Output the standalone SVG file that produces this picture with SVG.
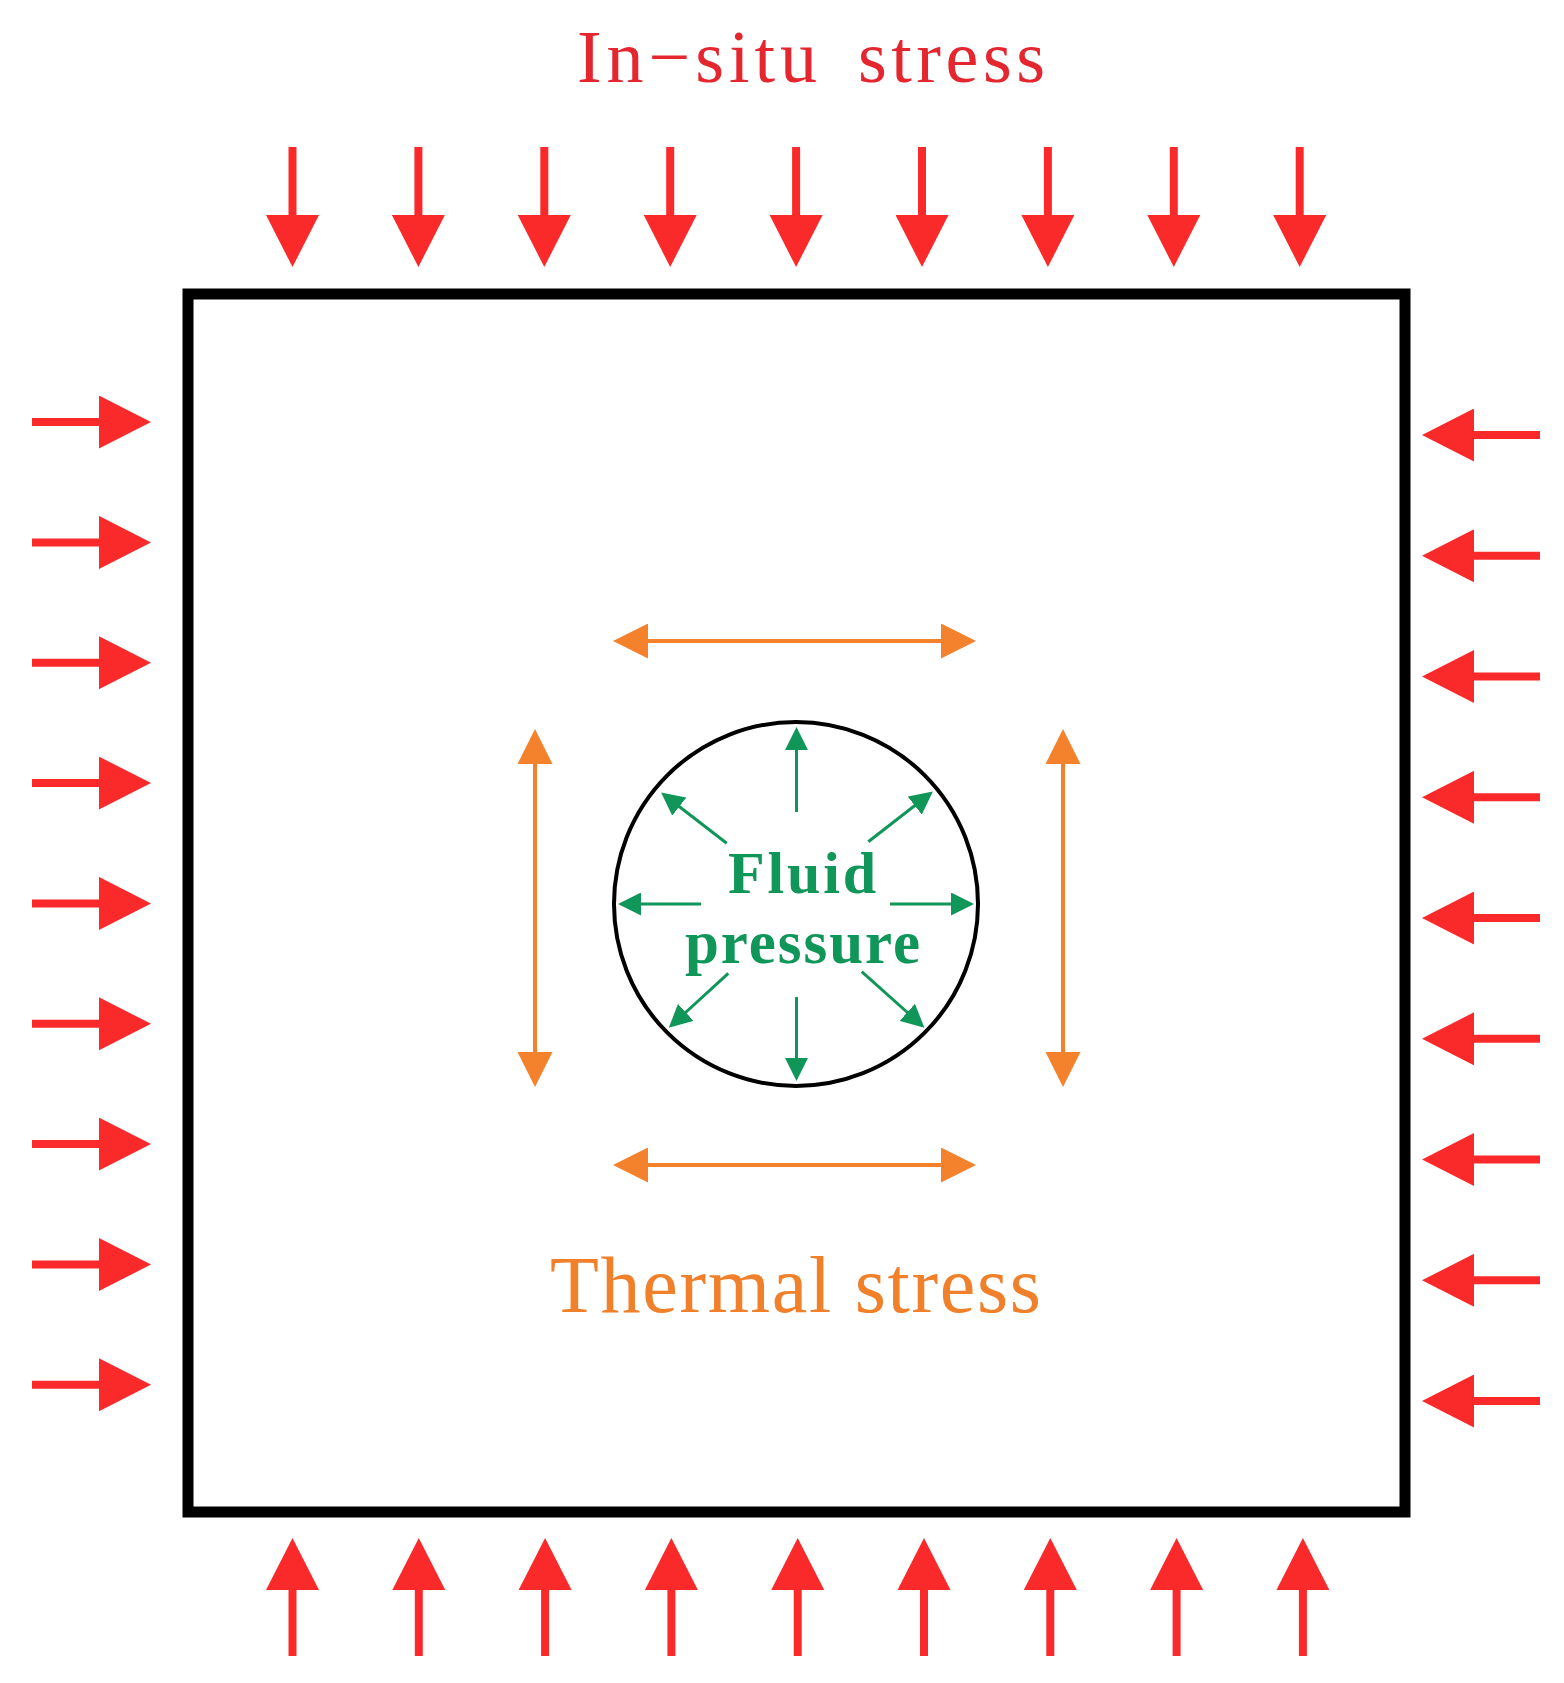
<svg xmlns="http://www.w3.org/2000/svg" width="1564" height="1683" viewBox="0 0 1564 1683">
<style>
.red{stroke:#fa2a2a;stroke-width:8;fill:none;marker-end:url(#rh)}
.org{stroke:#f4812c;stroke-width:4;fill:none;marker-start:url(#oh);marker-end:url(#oh)}
.grn{stroke:#0f9658;stroke-width:3;fill:none;marker-end:url(#gh)}
.serif{font-family:"Liberation Serif","Times New Roman",serif}
</style>
<defs>
<marker id="rh" viewBox="0 0 52 53" refX="1" refY="26.5" markerWidth="52" markerHeight="53" markerUnits="userSpaceOnUse" orient="auto"><path d="M0,0 L52,26.5 L0,53 Z" fill="#fa2a2a"/></marker>
<marker id="oh" viewBox="0 0 35 35" refX="1" refY="17.5" markerWidth="35" markerHeight="35" markerUnits="userSpaceOnUse" orient="auto-start-reverse"><path d="M0,0 L35,17.5 L0,35 Z" fill="#f4812c"/></marker>
<marker id="gh" viewBox="0 0 23 23" refX="1" refY="11.5" markerWidth="23" markerHeight="23" markerUnits="userSpaceOnUse" orient="auto"><path d="M0,0 L23,11.5 L0,23 Z" fill="#0f9658"/></marker>
</defs>
<rect width="1564" height="1683" fill="#ffffff"/>

<g id="title">
<text class="serif" y="82" font-size="74" fill="#e4262f"><tspan x="577" textLength="240" lengthAdjust="spacing">In−situ</tspan><tspan x="858" textLength="187" lengthAdjust="spacing">stress</tspan></text>
</g>

<g id="block">
<rect x="188" y="294" width="1217" height="1218" fill="none" stroke="#000" stroke-width="11"/>
</g>

<g id="wellbore">
<circle cx="796" cy="904" r="182" fill="none" stroke="#000" stroke-width="4"/>
<text class="serif" x="728" y="893" font-size="60" font-weight="bold" fill="#0f9658" textLength="148" lengthAdjust="spacing">Fluid</text>
<text class="serif" x="685" y="963" font-size="61" font-weight="bold" fill="#0f9658" textLength="235" lengthAdjust="spacing">pressure</text>
</g>

<g id="thermal-label">
<text class="serif" x="550" y="1312" font-size="80" fill="#f0802a" textLength="491" lengthAdjust="spacing">Thermal stress</text>
</g>

<g id="connectors">
<g id="top-arrows">
<line class="red" x1="292.5" y1="147" x2="292.5" y2="216"/>
<line class="red" x1="418.4" y1="147" x2="418.4" y2="216"/>
<line class="red" x1="544.3" y1="147" x2="544.3" y2="216"/>
<line class="red" x1="670.2" y1="147" x2="670.2" y2="216"/>
<line class="red" x1="796.1" y1="147" x2="796.1" y2="216"/>
<line class="red" x1="922" y1="147" x2="922" y2="216"/>
<line class="red" x1="1047.9" y1="147" x2="1047.9" y2="216"/>
<line class="red" x1="1173.8" y1="147" x2="1173.8" y2="216"/>
<line class="red" x1="1299.7" y1="147" x2="1299.7" y2="216"/>
</g>
<g id="bottom-arrows">
<line class="red" x1="292.5" y1="1656" x2="292.5" y2="1589"/>
<line class="red" x1="418.8" y1="1656" x2="418.8" y2="1589"/>
<line class="red" x1="545.1" y1="1656" x2="545.1" y2="1589"/>
<line class="red" x1="671.4" y1="1656" x2="671.4" y2="1589"/>
<line class="red" x1="797.7" y1="1656" x2="797.7" y2="1589"/>
<line class="red" x1="924" y1="1656" x2="924" y2="1589"/>
<line class="red" x1="1050.3" y1="1656" x2="1050.3" y2="1589"/>
<line class="red" x1="1176.6" y1="1656" x2="1176.6" y2="1589"/>
<line class="red" x1="1302.9" y1="1656" x2="1302.9" y2="1589"/>
</g>
<g id="left-arrows">
<line class="red" x1="32" y1="422" x2="100" y2="422"/>
<line class="red" x1="32" y1="542.4" x2="100" y2="542.4"/>
<line class="red" x1="32" y1="662.7" x2="100" y2="662.7"/>
<line class="red" x1="32" y1="783.1" x2="100" y2="783.1"/>
<line class="red" x1="32" y1="903.4" x2="100" y2="903.4"/>
<line class="red" x1="32" y1="1023.8" x2="100" y2="1023.8"/>
<line class="red" x1="32" y1="1144.1" x2="100" y2="1144.1"/>
<line class="red" x1="32" y1="1264.5" x2="100" y2="1264.5"/>
<line class="red" x1="32" y1="1384.8" x2="100" y2="1384.8"/>
</g>
<g id="right-arrows">
<line class="red" x1="1540" y1="435" x2="1473" y2="435"/>
<line class="red" x1="1540" y1="555.8" x2="1473" y2="555.8"/>
<line class="red" x1="1540" y1="676.5" x2="1473" y2="676.5"/>
<line class="red" x1="1540" y1="797.3" x2="1473" y2="797.3"/>
<line class="red" x1="1540" y1="918" x2="1473" y2="918"/>
<line class="red" x1="1540" y1="1038.8" x2="1473" y2="1038.8"/>
<line class="red" x1="1540" y1="1159.5" x2="1473" y2="1159.5"/>
<line class="red" x1="1540" y1="1280.3" x2="1473" y2="1280.3"/>
<line class="red" x1="1540" y1="1401" x2="1473" y2="1401"/>
</g>
<g id="thermal-arrows">
<line class="org" x1="647" y1="641" x2="942" y2="641"/>
<line class="org" x1="647" y1="1165" x2="942" y2="1165"/>
<line class="org" x1="535" y1="763" x2="535" y2="1053"/>
<line class="org" x1="1063" y1="763" x2="1063" y2="1053"/>
</g>
<g id="fluid-arrows">
<line class="grn" x1="796.5" y1="812" x2="796.5" y2="749"/>
<line class="grn" x1="796.5" y1="997" x2="796.5" y2="1059"/>
<line class="grn" x1="701" y1="904" x2="640" y2="904"/>
<line class="grn" x1="890" y1="904" x2="952" y2="904"/>
<line class="grn" x1="726.7" y1="843.3" x2="678.5" y2="806"/>
<line class="grn" x1="868.3" y1="841.7" x2="915.5" y2="805"/>
<line class="grn" x1="728.3" y1="973.3" x2="685" y2="1013"/>
<line class="grn" x1="861.7" y1="971.7" x2="908" y2="1013"/>
</g>
</g>
</svg>
